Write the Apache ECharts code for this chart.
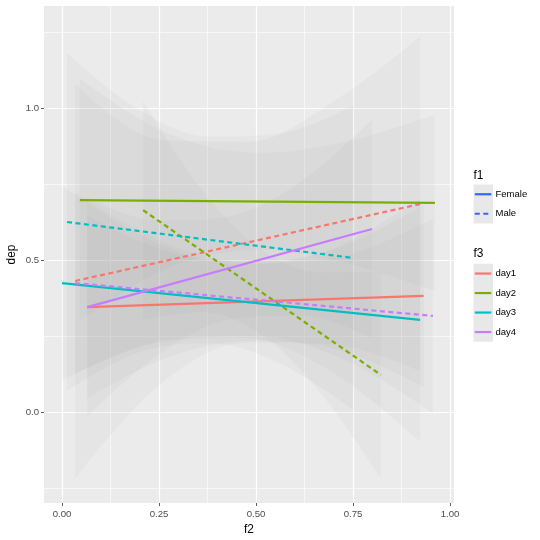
<!DOCTYPE html>
<html>
<head>
<meta charset="utf-8">
<script src="https://cdn.jsdelivr.net/npm/echarts@6/dist/echarts.min.js"></script>
<style>
html,body{margin:0;padding:0;background:#fff}
#chart{width:540px;height:540px}
</style>
</head>
<body>
<div id="chart"></div>
<script>
// tick values
var xMajor = [0, 0.25, 0.5, 0.75, 1.0];
var xMinor = [0.125, 0.375, 0.625, 0.875];
var yMajor = [0, 0.5, 1.0];
var yMinor = [-0.25, 0.25, 0.75, 1.25];

// fitted lines, end points [f2, dep]
var day1Female = [[0.065, 0.345], [0.932, 0.382]];
var day1Male   = [[0.034, 0.431], [0.923, 0.684]];
var day2Female = [[0.046, 0.697], [0.961, 0.688]];
var day2Male   = [[0.209, 0.664], [0.822, 0.122]];
var day3Female = [[0.000, 0.424], [0.923, 0.303]];
var day3Male   = [[0.013, 0.625], [0.750, 0.507]];
var day4Female = [[0.065, 0.345], [0.799, 0.602]];
var day4Male   = [[0.034, 0.424], [0.956, 0.316]];

// confidence bands: f2 positions, lower and upper dep
var bandX_d1F = [0.065, 0.282, 0.499, 0.716, 0.932];
var bandLo_d1F = [0.045, 0.184, 0.234, 0.203, 0.082];
var bandHi_d1F = [0.645, 0.524, 0.494, 0.543, 0.682];

var bandX_d1M = [0.034, 0.256, 0.479, 0.701, 0.923];
var bandLo_d1M = [-0.22, 0.095, 0.229, 0.222, 0.134];
var bandHi_d1M = [1.08, 0.895, 0.889, 1.022, 1.234];

var bandX_d2F = [0.046, 0.275, 0.504, 0.733, 0.961];
var bandLo_d2F = [0.297, 0.475, 0.533, 0.49, 0.398];
var bandHi_d2F = [1.097, 0.915, 0.853, 0.89, 0.978];

var bandX_d2M = [0.209, 0.362, 0.516, 0.669, 0.822];
var bandLo_d2M = [0.304, 0.329, 0.253, 0.058, -0.218];
var bandHi_d2M = [1.024, 0.729, 0.533, 0.458, 0.462];

var bandX_d3F = [0.0, 0.231, 0.462, 0.692, 0.923];
var bandLo_d3F = [0.104, 0.224, 0.244, 0.134, -0.097];
var bandHi_d3F = [0.744, 0.564, 0.484, 0.534, 0.703];

var bandX_d3M = [0.013, 0.197, 0.382, 0.566, 0.75];
var bandLo_d3M = [0.07, 0.196, 0.226, 0.157, 0.007];
var bandHi_d3M = [1.18, 0.996, 0.906, 0.917, 1.007];

var bandX_d4F = [0.065, 0.249, 0.432, 0.616, 0.799];
var bandLo_d4F = [-0.015, 0.189, 0.304, 0.318, 0.242];
var bandHi_d4F = [0.705, 0.629, 0.644, 0.758, 0.962];

var bandX_d4M = [0.034, 0.265, 0.495, 0.726, 0.956];
var bandLo_d4M = [0.124, 0.237, 0.25, 0.173, -0.004];
var bandHi_d4M = [0.724, 0.557, 0.49, 0.513, 0.636];

// legend labels
var f1Labels = ['Female', 'Male'];
var f3Labels = ['day1', 'day2', 'day3', 'day4'];

var dayColors = ['#F8766D', '#7CAE00', '#00BFC4', '#C77CFF'];
var font = 'Liberation Sans, Arial, sans-serif';

var fits = [
    [day1Female, 0, false], [day1Male, 0, true],
    [day2Female, 1, false], [day2Male, 1, true],
    [day3Female, 2, false], [day3Male, 2, true],
    [day4Female, 3, false], [day4Male, 3, true]
];
var bands = [
    [bandX_d1F, bandLo_d1F, bandHi_d1F], [bandX_d1M, bandLo_d1M, bandHi_d1M],
    [bandX_d2F, bandLo_d2F, bandHi_d2F], [bandX_d2M, bandLo_d2M, bandHi_d2M],
    [bandX_d3F, bandLo_d3F, bandHi_d3F], [bandX_d3M, bandLo_d3M, bandHi_d3M],
    [bandX_d4F, bandLo_d4F, bandHi_d4F], [bandX_d4M, bandLo_d4M, bandHi_d4M]
];

// bands: rows are [dep, f2] so that the stack runs along dep
var series = [];
for (var i = 0; i < bands.length; i++) {
    var bx = bands[i][0], lo = bands[i][1], hi = bands[i][2];
    series.push({
        type: 'line', stack: 'band' + i, stackStrategy: 'all', smooth: 0.35,
        symbol: 'none', silent: true, z: 1,
        dimensions: ['dep', 'f2'], encode: {x: 1, y: 0},
        lineStyle: {opacity: 0},
        data: bx.map(function (x, j) { return [lo[j], x]; })
    });
    series.push({
        type: 'line', stack: 'band' + i, stackStrategy: 'all', smooth: 0.35,
        symbol: 'none', silent: true, z: 1,
        dimensions: ['dep', 'f2'], encode: {x: 1, y: 0},
        lineStyle: {opacity: 0},
        areaStyle: {color: '#999999', opacity: 0.07},
        data: bx.map(function (x, j) { return [hi[j] - lo[j], x]; })
    });
}
for (var k = 0; k < fits.length; k++) {
    series.push({
        type: 'line', symbol: 'none', silent: true, z: 3,
        lineStyle: {
            color: dayColors[fits[k][1]], width: 2.2,
            type: fits[k][2] ? [5, 3.5] : 'solid'
        },
        data: fits[k][0]
    });
}

// legend drawn as graphic
var graphics = [];
function legendTitle(txt, y) {
    graphics.push({type: 'text', left: 473.5, top: y - 7, style: {
        text: txt, fontSize: 11.9, fontFamily: font, fill: '#000'}});
}
function legendKeys(labels, colors, dashed, y0) {
    graphics.push({type: 'rect', shape: {x: 473.5, y: y0, width: 19.5, height: labels.length * 19.5},
        style: {fill: '#E8E8E8'}, z: 0});
    labels.forEach(function (lab, j) {
        var cy = y0 + 9.75 + j * 19.5;
        graphics.push({type: 'line', shape: {x1: 474.8, y1: cy, x2: 491.3, y2: cy},
            style: {stroke: colors[j], lineWidth: 2.2, lineDash: dashed[j] ? [5, 3.5] : null}, z: 1});
        graphics.push({type: 'text', x: 495.5, y: cy, style: {
            text: lab, fontSize: 9.5, fontFamily: font, fill: '#000', verticalAlign: 'middle'}, z: 1});
    });
}
legendTitle('f1', 176.7);
legendKeys(f1Labels, ['#3366FF', '#3366FF'], [false, true], 184.5);
legendTitle('f3', 255);
legendKeys(f3Labels, dayColors, [false, false, false, false], 263.8);

var tickLabel = {color: '#4D4D4D', fontSize: 9.6, fontFamily: font};

var option = {
    animation: false,
    textStyle: {fontFamily: font},
    grid: {left: 44, top: 6, width: 410, height: 497, show: true, outerBoundsMode: 'none',
        containLabel: false, backgroundColor: '#EBEBEB', borderWidth: 0},
    xAxis: [{
        type: 'value', min: -0.0464, max: 1.0103,
        name: 'f2', nameLocation: 'middle', nameGap: 19,
        nameTextStyle: {fontSize: 11.9, color: '#000', fontFamily: font},
        axisLine: {show: false, onZero: false},
        axisTick: {show: true, length: 3, customValues: xMajor, lineStyle: {color: '#333', width: 0.8}},
        axisLabel: Object.assign({margin: 6, customValues: xMajor,
            formatter: function (v) { return v.toFixed(2); }}, tickLabel),
        splitLine: {show: true, lineStyle: {color: '#fff', width: 1.2}}
    }, {
        type: 'value', min: -0.0464, max: 1.0103, position: 'top',
        axisLine: {show: false, onZero: false}, axisLabel: {show: false},
        axisTick: {show: false, customValues: xMinor},
        splitLine: {show: true, lineStyle: {color: '#fff', width: 0.6}}
    }],
    yAxis: [{
        type: 'value', min: -0.2993, max: 1.3355,
        name: 'dep', nameLocation: 'middle', nameGap: 26, nameMoveOverlap: false,
        nameTextStyle: {fontSize: 11.9, color: '#000', fontFamily: font},
        axisLine: {show: false, onZero: false},
        axisTick: {show: true, length: 3, customValues: yMajor, lineStyle: {color: '#333', width: 0.8}},
        axisLabel: Object.assign({margin: 5, customValues: yMajor,
            formatter: function (v) { return v.toFixed(1); }}, tickLabel),
        splitLine: {show: true, lineStyle: {color: '#fff', width: 1.2}}
    }, {
        type: 'value', min: -0.2993, max: 1.3355, position: 'right',
        axisLine: {show: false, onZero: false}, axisLabel: {show: false},
        axisTick: {show: false, customValues: yMinor},
        splitLine: {show: true, lineStyle: {color: '#fff', width: 0.6}}
    }],
    graphic: graphics,
    series: series
};

var myChart = echarts.init(document.getElementById('chart'));
myChart.setOption(option);
</script>
</body>
</html>
